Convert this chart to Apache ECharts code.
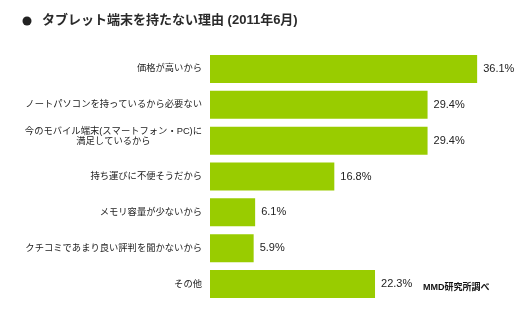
<!DOCTYPE html>
<html><head><meta charset="utf-8">
<script src="https://cdn.jsdelivr.net/npm/echarts@6/dist/echarts.min.js"></script>
<style>html,body{margin:0;padding:0;background:#fff}#c{width:520px;height:329px}</style>
</head><body><div id="c"></div>
<script>
var categories = ['価格が高いから','ノートパソコンを持っているから必要ない','今のモバイル端末(スマートフォン・PC)に\n満足しているから','持ち運びに不便そうだから','メモリ容量が少ないから','クチコミであまり良い評判を聞かないから','その他'];
var values = [36.1, 29.4, 29.4, 16.8, 6.1, 5.9, 22.3];
var titleText = 'タブレット端末を持たない理由 (2011年6月)';
var sourceText = 'MMD研究所調べ';

var jp = '"Liberation Sans", "Noto Sans CJK JP", sans-serif';
var chart = echarts.init(document.getElementById('c'));
chart.setOption({
  animation: false,
  backgroundColor: '#fff',
  grid: {left: 210, right: 14, top: 51, bottom: 27, containLabel: false},
  xAxis: {type: 'value', min: 0, max: 40, show: false},
  yAxis: {
    type: 'category', inverse: true, data: categories,
    axisLine: {show: false}, axisTick: {show: false}, splitLine: {show: false},
    axisLabel: {
      margin: 8, color: '#222', fontSize: 9.3, fontFamily: jp, lineHeight: 10,
      formatter: function (v) {
        if (v.indexOf('\n') >= 0) {
          return v.split('\n').map(function (s) { return '{c|' + s + '}'; }).join('\n') + '\n{e|}';
        }
        return v;
      },
      rich: {c: {align: 'center', fontSize: 9.3, lineHeight: 10, fontFamily: jp, color: '#222'}, e: {lineHeight: 8, fontSize: 8}}
    }
  },
  series: [{
    type: 'bar', data: values, barWidth: 28,
    itemStyle: {color: '#99cc00'},
    label: {show: true, position: 'right', distance: 6, formatter: '{c}%', color: '#222', fontSize: 11, fontFamily: jp}
  }],
  graphic: [
    {type: 'circle', shape: {cx: 27, cy: 21, r: 4.5}, style: {fill: '#222'}},
    {type: 'text', left: 42, top: 14, style: {text: titleText, fill: '#2a2a2a', font: 'bold 13px ' + jp}},
    {type: 'text', left: 423, top: 283, style: {text: sourceText, font: 'bold 9px ' + jp, fill: '#111'}}
  ]
});
</script></body></html>
